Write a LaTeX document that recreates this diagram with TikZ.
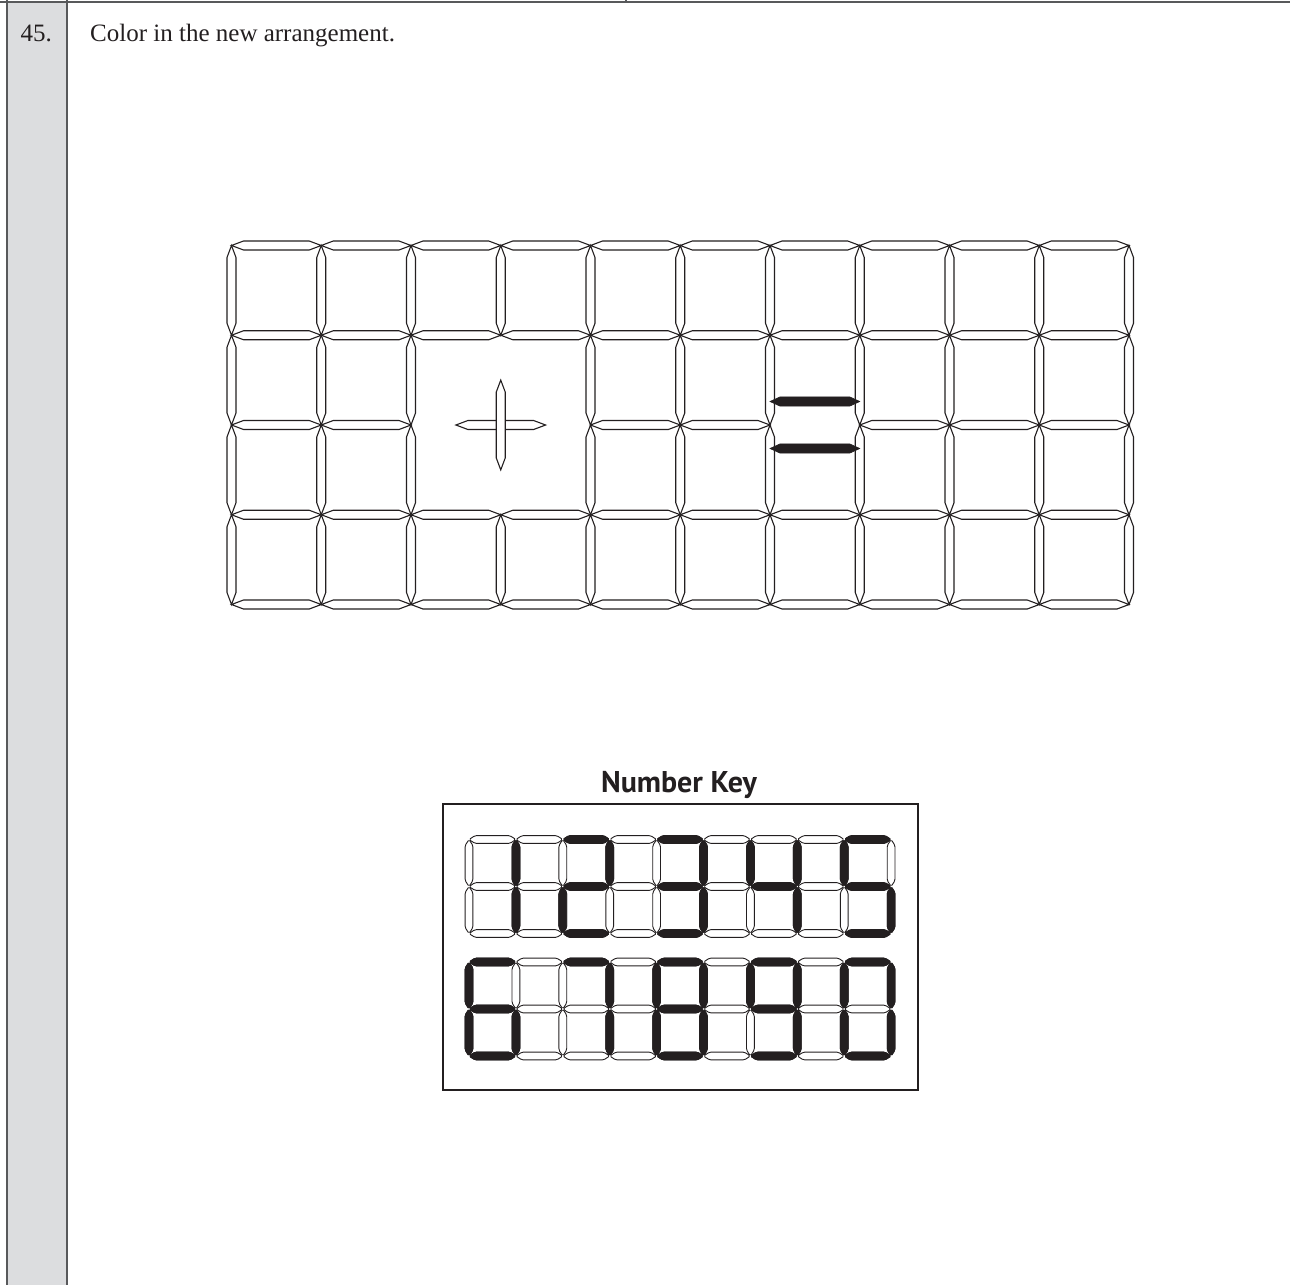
\documentclass[tikz,border=0pt]{standalone}
\usepackage{fontspec}
\setmainfont{Liberation Serif}
\newfontfamily\keyfont{PT Sans}
\definecolor{ink}{HTML}{231F20}
\definecolor{colgray}{HTML}{DCDDDF}
\definecolor{rulegray}{HTML}{58595B}
\newcommand\segw{4.5}
\newcommand\segt{12}
% horizontal segment: [style]{x1}{x2}{y}
\newcommand\HSeg[4][]{\path[#1] (#2,#4) -- ({#2+\segt},{#4-\segw}) -- ({#3-\segt},{#4-\segw}) -- (#3,#4) -- ({#3-\segt},{#4+\segw}) -- ({#2+\segt},{#4+\segw}) -- cycle;}
% vertical segment: [style]{y1}{y2}{x}
\newcommand\VSeg[4][]{\path[#1] (#4,#2) -- ({#4+\segw},{#2+\segt}) -- ({#4+\segw},{#3-\segt}) -- (#4,#3) -- ({#4-\segw},{#3-\segt}) -- ({#4-\segw},{#2+\segt}) -- cycle;}
\newcommand\kx{469}
\newcommand\kp{46.9}
\newcommand\kq{47}
% key horizontal: [style]{block y0}{col}{row line}
\newcommand\KH[4][kthin]{\pgfmathsetmacro\xa{\kx+\kp*#3}\pgfmathsetmacro\xb{\xa+\kp}\pgfmathsetmacro\yy{#2+\kq*#4}\HSeg[#1]{\xa}{\xb}{\yy}}
% key vertical: [style]{block y0}{col line}{part 0=upper 1=lower}
\newcommand\KV[4][kthin]{\pgfmathsetmacro\xx{\kx+\kp*#3}\pgfmathsetmacro\ya{#2+\kq*#4}\pgfmathsetmacro\yb{\ya+\kq}\VSeg[#1]{\ya}{\yb}{\xx}}
\tikzset{
  thinseg/.style={draw=ink, line width=1.1pt, fill=white, line join=miter},
  thickseg/.style={draw=ink, line width=0.6pt, fill=ink},
  kthin/.style={draw=ink, line width=0.9pt, fill=white, rounded corners=1.5pt},
  kthick/.style={draw=ink, line width=0.9pt, fill=ink, rounded corners=1.5pt},
  plaintext/.style={inner sep=0pt, text=ink, font=\fontsize{25}{30}\selectfont}
}
\begin{document}
\begin{tikzpicture}[x=1pt,y=-1pt]
\fill[white] (0,0) rectangle (1290,1285);
\useasboundingbox (0,0) rectangle (1290,1285);
% page frame
\fill[colgray] (7,2) rectangle (67,1285);
\draw[rulegray, line width=1.5pt] (0,2) -- (1290,2);
\draw[rulegray, line width=2pt] (7,0) -- (7,1285);
\draw[rulegray, line width=2pt] (67,0) -- (67,1285);
\draw[rulegray, line width=1.5pt] (626,0) -- (626,2);
% texts
\node[plaintext, anchor=base west] (qnum) at (20.5,41.5) {45.};
\node[plaintext, anchor=base west] (task) at (90,41.5) {Color in the new arrangement.};
% main grid
\newcommand\gx{231.5}
\newcommand\gy{245.5}
\newcommand\gp{89.75}
\foreach \j in {0,...,4}{
  \foreach \i in {0,...,9}{
    \pgfmathtruncatemacro\skipit{(\j==2)&&((\i==2)||(\i==3)||(\i==6))}
    \ifnum\skipit=0
      \pgfmathsetmacro\xa{\gx+\gp*\i}\pgfmathsetmacro\xb{\xa+\gp}\pgfmathsetmacro\yy{\gy+\gp*\j}
      \HSeg[thinseg]{\xa}{\xb}{\yy}
    \fi
  }
}
\foreach \i in {0,...,10}{
  \foreach \j in {0,...,3}{
    \pgfmathtruncatemacro\skipit{(\i==3)&&((\j==1)||(\j==2))}
    \ifnum\skipit=0
      \pgfmathsetmacro\xx{\gx+\gp*\i}\pgfmathsetmacro\ya{\gy+\gp*\j}\pgfmathsetmacro\yb{\ya+\gp}
      \VSeg[thinseg]{\ya}{\yb}{\xx}
    \fi
  }
}
% plus sign
\HSeg[thinseg]{455.9}{545.6}{425}
\VSeg[thinseg]{380.1}{469.9}{500.75}
% equals sign
\begin{scope}
\renewcommand\segt{10}
\renewcommand\segw{4.6}
\HSeg[thickseg]{770}{859.75}{401.5}
\HSeg[thickseg]{770}{859.75}{448.5}
\end{scope}
% number key
\node[inner sep=0pt, anchor=base, text=ink, font=\keyfont\bfseries\fontsize{30}{34}\selectfont] (keytitle) at (679,792) {Number Key};
\draw[ink, line width=2pt] (443,804) rectangle (918,1090);
\begin{scope}
\renewcommand\segt{6}
\renewcommand\segw{3.9}
\foreach \b in {839.5,962}{
  \foreach \r in {0,1,2}{\foreach \c in {0,...,8}{\KH{\b}{\c}{\r}}}
  \foreach \k in {0,...,9}{\foreach \p in {0,1}{\KV{\b}{\k}{\p}}}
}
% 1
\KV[kthick]{839.5}{1}{0}\KV[kthick]{839.5}{1}{1}
% 2
\KH[kthick]{839.5}{2}{0}\KH[kthick]{839.5}{2}{1}\KH[kthick]{839.5}{2}{2}
\KV[kthick]{839.5}{3}{0}\KV[kthick]{839.5}{2}{1}
% 3
\KH[kthick]{839.5}{4}{0}\KH[kthick]{839.5}{4}{1}\KH[kthick]{839.5}{4}{2}
\KV[kthick]{839.5}{5}{0}\KV[kthick]{839.5}{5}{1}
% 4
\KV[kthick]{839.5}{6}{0}\KH[kthick]{839.5}{6}{1}
\KV[kthick]{839.5}{7}{0}\KV[kthick]{839.5}{7}{1}
% 5
\KH[kthick]{839.5}{8}{0}\KH[kthick]{839.5}{8}{1}\KH[kthick]{839.5}{8}{2}
\KV[kthick]{839.5}{8}{0}\KV[kthick]{839.5}{9}{1}
% 6
\KH[kthick]{962}{0}{0}\KH[kthick]{962}{0}{1}\KH[kthick]{962}{0}{2}
\KV[kthick]{962}{0}{0}\KV[kthick]{962}{0}{1}\KV[kthick]{962}{1}{1}
% 7
\KH[kthick]{962}{2}{0}\KV[kthick]{962}{3}{0}\KV[kthick]{962}{3}{1}
% 8
\KH[kthick]{962}{4}{0}\KH[kthick]{962}{4}{1}\KH[kthick]{962}{4}{2}
\KV[kthick]{962}{4}{0}\KV[kthick]{962}{4}{1}\KV[kthick]{962}{5}{0}\KV[kthick]{962}{5}{1}
% 9
\KH[kthick]{962}{6}{0}\KH[kthick]{962}{6}{1}\KH[kthick]{962}{6}{2}
\KV[kthick]{962}{6}{0}\KV[kthick]{962}{7}{0}\KV[kthick]{962}{7}{1}
% 0
\KH[kthick]{962}{8}{0}\KH[kthick]{962}{8}{2}
\KV[kthick]{962}{8}{0}\KV[kthick]{962}{8}{1}\KV[kthick]{962}{9}{0}\KV[kthick]{962}{9}{1}
\end{scope}
\end{tikzpicture}
\end{document}
